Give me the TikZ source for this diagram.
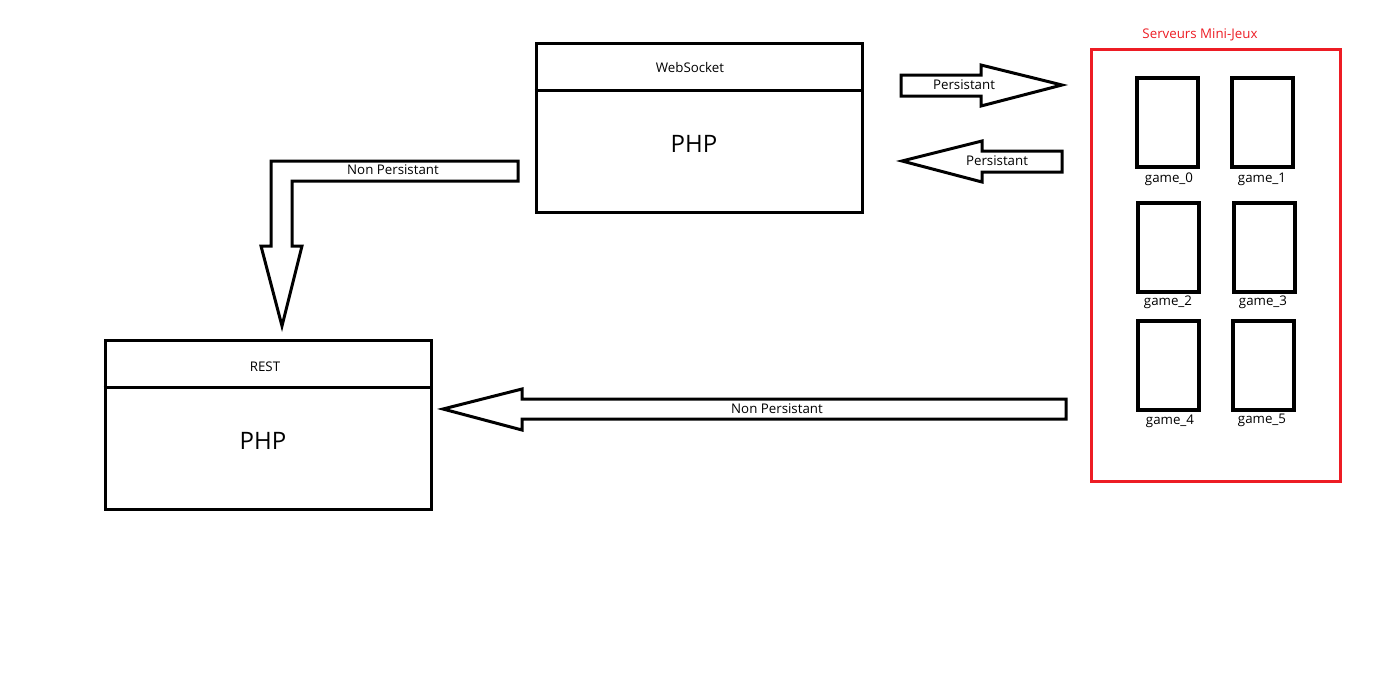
\documentclass[tikz,border=0pt]{standalone}
\usepackage{fontspec}
\setmainfont{Open Sans}
\definecolor{pred}{HTML}{ED1C24}
\begin{document}
\begin{tikzpicture}[x=1pt,y=-1pt,
  box/.style={draw=black,line width=3pt,inner sep=0pt},
  gamebox/.style={draw=black,line width=4pt,inner sep=0pt,minimum width=61pt,minimum height=89pt},
  blockarrow/.style={draw=black,line width=3pt,line join=miter,fill=white},
  lbl/.style={font=\fontsize{13.3}{15}\selectfont,inner sep=0pt},
  big/.style={font=\fontsize{24}{28}\selectfont,inner sep=0pt}]
\path[use as bounding box,fill=white] (0,0) rectangle (1395,694);

% WebSocket box
\node[box,minimum width=326pt,minimum height=169pt] (ws) at (699,127.5) {};
\draw[line width=3pt] ([yshift=-49pt]ws.north west) -- ([yshift=-49pt]ws.north east);
\node[lbl] (wst) at (690,68) {WebSocket};
\node[big] (wsp) at (694,144) {PHP};

% REST box
\node[box,minimum width=326pt,minimum height=169pt] (rest) at (268,424.5) {};
\draw[line width=3pt] ([yshift=-49pt]rest.north west) -- ([yshift=-49pt]rest.north east);
\node[lbl] (restt) at (265,367) {REST};
\node[big] (restp) at (263,441) {PHP};

% Mini-games servers
\node[draw=pred,line width=3pt,minimum width=249pt,minimum height=432pt,inner sep=0pt] (srv) at (1215.5,265) {};
\node[lbl,text=pred] (srvt) at (1200,35) {Serveurs Mini-Jeux};

\node[gamebox] (g0) at (1167.5,122.5) {};
\node[gamebox] (g1) at (1262.5,122.5) {};
\node[gamebox] (g2) at (1168.5,247) {};
\node[gamebox] (g3) at (1264,247) {};
\node[gamebox] (g4) at (1168.5,365) {};
\node[gamebox] (g5) at (1263,365) {};
\node[lbl] (l0) at (1169,179) {game\_0};
\node[lbl] (l1) at (1262,179) {game\_1};
\node[lbl] (l2) at (1168,302) {game\_2};
\node[lbl] (l3) at (1263,302) {game\_3};
\node[lbl] (l4) at (1170,421) {game\_4};
\node[lbl] (l5) at (1262,420) {game\_5};

% Block arrows
\draw[blockarrow] (901,75) -- (981,75) -- (981,65) -- (1062,85) -- (981,106) -- (981,96) -- (901,96) -- cycle;
\node[lbl] (a1) at (964,85) {Persistant};

\draw[blockarrow] (1062,151) -- (982,151) -- (982,141) -- (902,161) -- (982,182) -- (982,172) -- (1062,172) -- cycle;
\node[lbl] (a2) at (997,161) {Persistant};

\draw[blockarrow] (518,161) -- (271,161) -- (271,246) -- (261,246) -- (282,326) -- (302,246) -- (292,246) -- (292,181) -- (518,181) -- cycle;
\node[lbl] (a3) at (393,170) {Non Persistant};

\draw[blockarrow] (1066,399) -- (522,399) -- (522,389) -- (443,409) -- (522,430) -- (522,419) -- (1066,419) -- cycle;
\node[lbl] (a4) at (777,409) {Non Persistant};
\end{tikzpicture}
\end{document}
